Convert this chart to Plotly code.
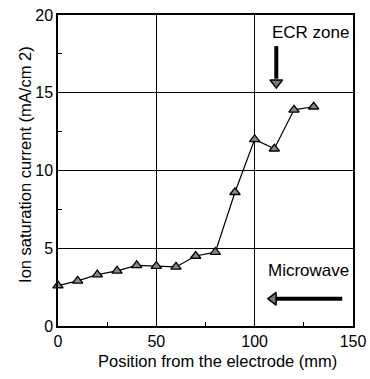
import plotly.graph_objects as go

positions = [0, 10, 20, 30, 40, 50, 60, 70, 80, 90, 100, 110, 120, 130]
currents = [2.6, 2.9, 3.3, 3.55, 3.9, 3.85, 3.8, 4.5, 4.75, 8.6, 12.0, 11.4, 13.9, 14.1]
x_ticks = [0, 50, 100, 150]
y_ticks = [0, 5, 10, 15, 20]
x_title = "Position from the electrode (mm)"
y_title = "Ion saturation current (mA/cm 2)"

# annotation arrows (data coords)
ecr_arrow_x = [111, 111]
ecr_arrow_y = [18.0, 15.9]
mw_arrow_x = [144.5, 110.5]
mw_arrow_y = [1.75, 1.75]

FONT = "Liberation Sans, Arial, sans-serif"

fig = go.Figure()
fig.add_trace(go.Scatter(
    x=positions, y=currents, mode="lines+markers",
    line=dict(color="black", width=1.2),
    marker=dict(symbol="triangle-up", size=9, color="#888888",
                line=dict(color="black", width=1.3)),
    showlegend=False, cliponaxis=False,
))
# ECR arrow
fig.add_trace(go.Scatter(x=ecr_arrow_x, y=ecr_arrow_y, mode="lines",
                         line=dict(color="black", width=4), showlegend=False, hoverinfo="skip"))
fig.add_trace(go.Scatter(x=[111], y=[15.65], mode="markers",
                         marker=dict(symbol="triangle-down", size=11, color="#777777",
                                     line=dict(color="black", width=1.5)),
                         showlegend=False, hoverinfo="skip"))
# Microwave arrow
fig.add_trace(go.Scatter(x=mw_arrow_x, y=mw_arrow_y, mode="lines",
                         line=dict(color="black", width=4), showlegend=False, hoverinfo="skip"))
fig.add_trace(go.Scatter(x=[109.5], y=[1.75], mode="markers",
                         marker=dict(symbol="triangle-left", size=11, color="#777777",
                                     line=dict(color="black", width=1.5)),
                         showlegend=False, hoverinfo="skip"))

fig.add_annotation(x=149, y=18.85, xref="x", yref="y", text="ECR zone", showarrow=False,
                   xanchor="right", font=dict(family=FONT, size=17, color="black"))
fig.add_annotation(x=149, y=3.55, xref="x", yref="y", text="Microwave", showarrow=False,
                   xanchor="right", font=dict(family=FONT, size=17, color="black"))

# axis titles as paper-positioned annotations
fig.add_annotation(x=0.542, y=-0.113, xref="paper", yref="paper", text=x_title, showarrow=False,
                   xanchor="center", yanchor="middle", font=dict(family=FONT, size=16.5, color="black"))
fig.add_annotation(x=-0.112, y=0.521, xref="paper", yref="paper", text=y_title, showarrow=False,
                   textangle=-90, xanchor="center", yanchor="middle",
                   font=dict(family=FONT, size=16.5, color="black"))

fig.update_layout(
    width=370, height=379, margin=dict(l=58, r=17, t=15, b=53),
    paper_bgcolor="white", plot_bgcolor="white",
    font=dict(family=FONT, size=16, color="black"),
    xaxis=dict(range=[0, 150], tickvals=x_ticks, ticks="", showgrid=True, gridcolor="black",
               gridwidth=1, showline=True, linecolor="black", linewidth=1.5, mirror=True,
               zeroline=False, tickfont=dict(size=16), automargin=False,
               minor=dict(tickvals=[25, 75, 125], ticks="inside", ticklen=4, tickcolor="black", showgrid=False)),
    yaxis=dict(range=[0, 20], tickvals=y_ticks, ticks="", showgrid=True, gridcolor="black",
               gridwidth=1, showline=True, linecolor="black", linewidth=1.5, mirror=True,
               zeroline=False, tickfont=dict(size=16), automargin=False,
               minor=dict(tickvals=[2.5, 7.5, 12.5, 17.5], ticks="inside", ticklen=4, tickcolor="black", showgrid=False)),
)

fig.write_html("out.html")
